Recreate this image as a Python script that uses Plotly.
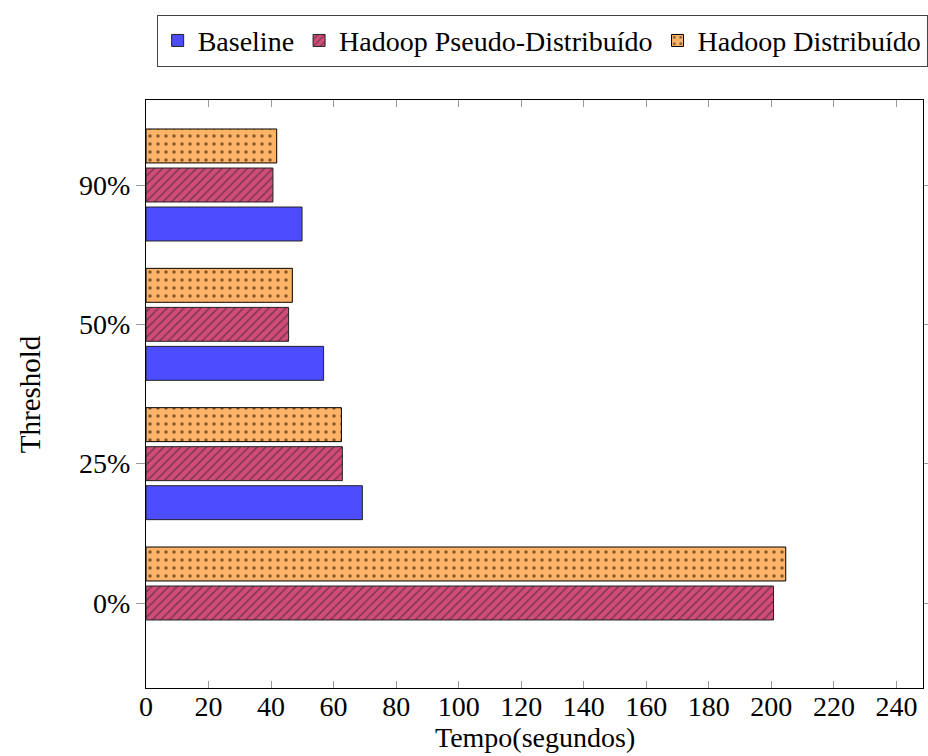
import plotly.graph_objects as go

# Threshold levels (y categories) and execution times in seconds
thresholds = ["0%", "25%", "50%", "90%"]
baseline = [None, 69.2, 56.8, 49.9]
hadoop_pseudo = [200.7, 62.8, 45.6, 40.6]
hadoop_dist = [204.6, 62.5, 46.8, 41.8]
x_ticks = list(range(0, 241, 20))

FONT = "Liberation Serif"

fig = go.Figure()
fig.add_trace(go.Bar(
    name="Baseline", y=thresholds, x=baseline, orientation="h",
    marker=dict(color="#4D4DFF", line=dict(color="#222222", width=1)),
))
fig.add_trace(go.Bar(
    name="Hadoop Pseudo-Distribuído", y=thresholds, x=hadoop_pseudo, orientation="h",
    marker=dict(color="#D24C79", line=dict(color="#222222", width=1),
                pattern=dict(shape="/", fgcolor="#222222", size=6, solidity=0.25)),
))
fig.add_trace(go.Bar(
    name="Hadoop Distribuído", y=thresholds, x=hadoop_dist, orientation="h",
    marker=dict(color="#FFB366", line=dict(color="#000000", width=1),
                pattern=dict(shape=".", fgcolor="#000000", size=8, solidity=0.15)),
))

fig.update_layout(
    width=928, height=756,
    margin=dict(l=146, r=5, t=100, b=68, autoexpand=False),
    paper_bgcolor="white", plot_bgcolor="white",
    barmode="group", bargap=0.16, bargroupgap=0.13,
    font=dict(family=FONT, size=28, color="black"),
    showlegend=True,
    legend=dict(
        orientation="h", x=1.006, xanchor="right", y=1.145, yanchor="top",
        bordercolor="#444444", borderwidth=1, bgcolor="white",
        font=dict(family=FONT, size=28), traceorder="normal",
        itemwidth=30, tracegroupgap=0,
    ),
    xaxis=dict(
        range=[0, 248.5], tickvals=x_ticks, ticks="inside", ticklen=7,
        tickcolor="#999999", showline=True, linecolor="black", linewidth=1,
        mirror="ticks", showgrid=False, zeroline=False, automargin=False,
        ticklabelstandoff=-7,
    ),
    yaxis=dict(
        type="category", categoryorder="array", categoryarray=thresholds,
        range=[-0.61, 3.61], ticks="outside", ticklen=9, tickcolor="#999999",
        showline=True, linecolor="black", linewidth=1, mirror="ticks",
        showgrid=False, zeroline=False, automargin=False,
    ),
    annotations=[
        dict(text="Tempo(segundos)", xref="paper", yref="paper",
             x=0.5, y=-0.1145, xanchor="center", yanchor="bottom",
             showarrow=False, font=dict(family=FONT, size=28)),
        dict(text="Threshold", xref="paper", yref="paper",
             x=-0.149, y=0.5, xanchor="center", yanchor="middle",
             textangle=-90, showarrow=False, font=dict(family=FONT, size=29)),
    ],
)

fig.write_html("out.html")
